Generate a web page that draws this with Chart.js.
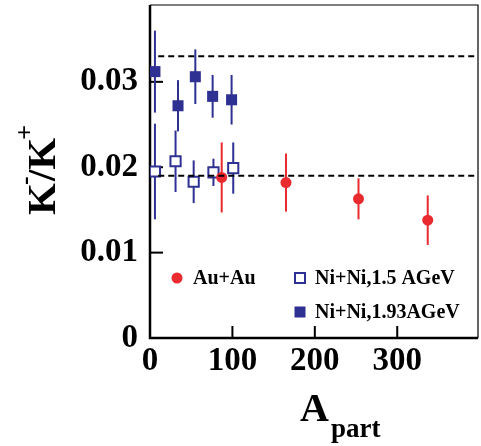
<!DOCTYPE html>
<html>
<head>
<meta charset="utf-8">
<script src="https://cdn.jsdelivr.net/npm/chart.js@4.4.1/dist/chart.umd.min.js"></script>
<style>
    html, body { margin: 0; padding: 0; background: #fff; }
    #wrap { width: 481px; height: 446px; }
</style>
</head>
<body>
<div id="wrap"><canvas id="ratioChart"></canvas></div>
<script>
// K-/K+ ratio versus number of participants
const auApart = [87, 165, 253, 337];
const auRatio = [0.0188, 0.0182, 0.0163, 0.0138];
const auErr = [0.0041, 0.0034, 0.0024, 0.0029];

const ni15Apart = [6, 31, 53, 77, 101];
const ni15Ratio = [0.0195, 0.0207, 0.0183, 0.0194, 0.0199];
const ni15Err = [0.0056, 0.0036, 0.0025, 0.0016, 0.0030];

const ni193Apart = [6, 34, 55, 76, 99];
const ni193Ratio = [0.0312, 0.0272, 0.0306, 0.0283, 0.0279];
const ni193Err = [0.0048, 0.0030, 0.0032, 0.0025, 0.0029];

// dashed reference levels
const refLevels = [0.033, 0.019];
const refStart = 10;

const xTicks = [0, 100, 200, 300];
const yTicks = [0, 0.01, 0.02, 0.03];

const legendLabels = ['Au+Au', 'Ni+Ni,1.5 AGeV', 'Ni+Ni,1.93AGeV'];

const RED = '#e92a2e';
const BLUE = '#2e3092';
const FONT = '"Liberation Serif", "Times New Roman", serif';

const X_MAX = 398;
const Y_MAX = 0.039;

function toPoints(xs, ys) {
    return xs.map((x, i) => ({ x: x, y: ys[i] }));
}

// drop the padding Chart.js reserves for edge labels
function noPadding(s) {
    s.paddingTop = 0;
    s.paddingBottom = 0;
    s.paddingLeft = 0;
    s.paddingRight = 0;
}

const refDatasets = refLevels.map(level => ({
    type: 'line',
    data: [{ x: refStart, y: level }, { x: X_MAX, y: level }],
    borderColor: '#000',
    borderWidth: 2,
    borderDash: [6, 4],
    pointRadius: 0,
    fill: false
}));

// error bars, drawn under the markers
const errorBars = {
    id: 'errorBars',
    beforeDatasetsDraw(chart) {
        const c = chart.ctx;
        const xs = chart.scales.x, ys = chart.scales.y;
        const sets = [
            [auApart, auRatio, auErr, RED],
            [ni15Apart, ni15Ratio, ni15Err, BLUE],
            [ni193Apart, ni193Ratio, ni193Err, BLUE]
        ];
        c.save();
        c.lineWidth = 2;
        sets.forEach(([ax, val, err, col]) => {
            c.strokeStyle = col;
            ax.forEach((a, i) => {
                const px = xs.getPixelForValue(a);
                c.beginPath();
                c.moveTo(px, ys.getPixelForValue(val[i] + err[i]));
                c.lineTo(px, ys.getPixelForValue(val[i] - err[i]));
                c.stroke();
            });
        });
        c.restore();
    }
};

// box and inward tick marks
const frame = {
    id: 'frame',
    beforeDatasetsDraw(chart) {
        const c = chart.ctx;
        const a = chart.chartArea;
        const xs = chart.scales.x, ys = chart.scales.y;
        c.save();
        c.strokeStyle = '#000';
        c.lineWidth = 1.2;
        c.beginPath();
        c.moveTo(a.left, a.top);
        c.lineTo(a.right, a.top);
        c.lineTo(a.right, a.bottom);
        c.stroke();
        c.lineWidth = 2.5;
        c.beginPath();
        c.moveTo(a.left, a.top);
        c.lineTo(a.left, a.bottom);
        c.lineTo(a.right, a.bottom);
        c.stroke();
        c.lineWidth = 2;
        yTicks.slice(1).forEach(v => {
            const py = ys.getPixelForValue(v);
            c.beginPath();
            c.moveTo(a.left, py);
            c.lineTo(a.left + 13, py);
            c.stroke();
        });
        xTicks.slice(1).forEach(v => {
            const px = xs.getPixelForValue(v);
            c.beginPath();
            c.moveTo(px, a.bottom);
            c.lineTo(px, a.bottom - 12);
            c.stroke();
        });
        c.restore();
    }
};

const legendBox = {
    id: 'legendBox',
    afterDraw(chart) {
        const c = chart.ctx;
        c.save();
        c.font = 'bold 20px ' + FONT;
        c.textBaseline = 'middle';
        c.textAlign = 'left';

        // Au+Au
        c.fillStyle = RED;
        c.beginPath();
        c.arc(177, 278, 5.5, 0, Math.PI * 2);
        c.fill();
        c.fillStyle = '#000';
        c.fillText(legendLabels[0], 193, 279);

        // Ni+Ni 1.5
        c.strokeStyle = BLUE;
        c.lineWidth = 2;
        c.fillStyle = '#fff';
        c.fillRect(295, 273, 10, 10);
        c.strokeRect(295, 273, 10, 10);
        c.fillStyle = '#000';
        c.fillText(legendLabels[1], 315, 279);

        // Ni+Ni 1.93
        c.fillStyle = BLUE;
        c.fillRect(294.5, 306.5, 11, 11);
        c.fillStyle = '#000';
        c.fillText(legendLabels[2], 315, 313);
        c.restore();
    }
};

// axis titles with super- and subscripts
const axisTitles = {
    id: 'axisTitles',
    afterDraw(chart) {
        const c = chart.ctx;
        c.save();
        c.fillStyle = '#000';
        c.textBaseline = 'alphabetic';
        c.textAlign = 'left';

        // x title: A_part
        c.font = 'bold 40px ' + FONT;
        c.fillText('A', 300, 421);
        c.font = 'bold 27px ' + FONT;
        c.fillText('part', 331, 437);

        // y title: K-/K+
        c.translate(55, 215);
        c.rotate(-Math.PI / 2);
        let x = 0;
        c.font = 'bold 41px ' + FONT;
        c.fillText('K', x, 0);
        x += c.measureText('K').width;
        c.font = 'bold 26px ' + FONT;
        c.fillText('-', x - 2, -22);
        x += 2;
        c.font = 'bold 41px ' + FONT;
        c.fillText('/K', x, 0);
        x += c.measureText('/K').width;
        c.font = 'bold 26px ' + FONT;
        c.fillText('+', x - 2, -22);
        c.restore();
    }
};

const ctx = document.getElementById('ratioChart').getContext('2d');
const ratioChart = new Chart(ctx, {
    type: 'scatter',
    data: {
        datasets: [
            ...refDatasets,
            {
                label: legendLabels[0],
                data: toPoints(auApart, auRatio),
                pointStyle: 'circle',
                pointRadius: 5.5,
                backgroundColor: RED,
                borderColor: RED,
                borderWidth: 0
            },
            {
                label: legendLabels[1],
                data: toPoints(ni15Apart, ni15Ratio),
                pointStyle: 'rect',
                pointRadius: 7.2,
                backgroundColor: '#fff',
                borderColor: BLUE,
                borderWidth: 2
            },
            {
                label: legendLabels[2],
                data: toPoints(ni193Apart, ni193Ratio),
                pointStyle: 'rect',
                pointRadius: 7.8,
                backgroundColor: BLUE,
                borderColor: BLUE,
                borderWidth: 0
            }
        ]
    },
    options: {
        responsive: true,
        maintainAspectRatio: false,
        animation: false,
        layout: { autoPadding: false, padding: { top: 5, right: 3, left: 0, bottom: 0 } },
        plugins: {
            legend: { display: false },
            tooltip: { enabled: false }
        },
        scales: {
            x: {
                type: 'linear',
                min: 0,
                max: X_MAX,
                border: { display: false },
                grid: { display: false, drawTicks: false },
                afterBuildTicks: s => { s.ticks = xTicks.map(v => ({ value: v })); },
                ticks: {
                    color: '#000',
                    font: { family: FONT, size: 33, weight: 'bold' },
                    padding: 4,
                    maxRotation: 0,
                    autoSkip: false
                },
                afterFit: s => { s.height = 108; noPadding(s); }
            },
            y: {
                min: 0,
                max: Y_MAX,
                border: { display: false },
                grid: { display: false, drawTicks: false },
                afterBuildTicks: s => { s.ticks = yTicks.map(v => ({ value: v })); },
                ticks: {
                    color: '#000',
                    font: { family: FONT, size: 33, weight: 'bold' },
                    padding: 12,
                    autoSkip: false,
                    callback: v => v === 0 ? '0' : v.toFixed(2)
                },
                afterFit: s => { s.width = 150; noPadding(s); }
            }
        }
    },
    plugins: [frame, errorBars, legendBox, axisTitles]
});
</script>
</body>
</html>
